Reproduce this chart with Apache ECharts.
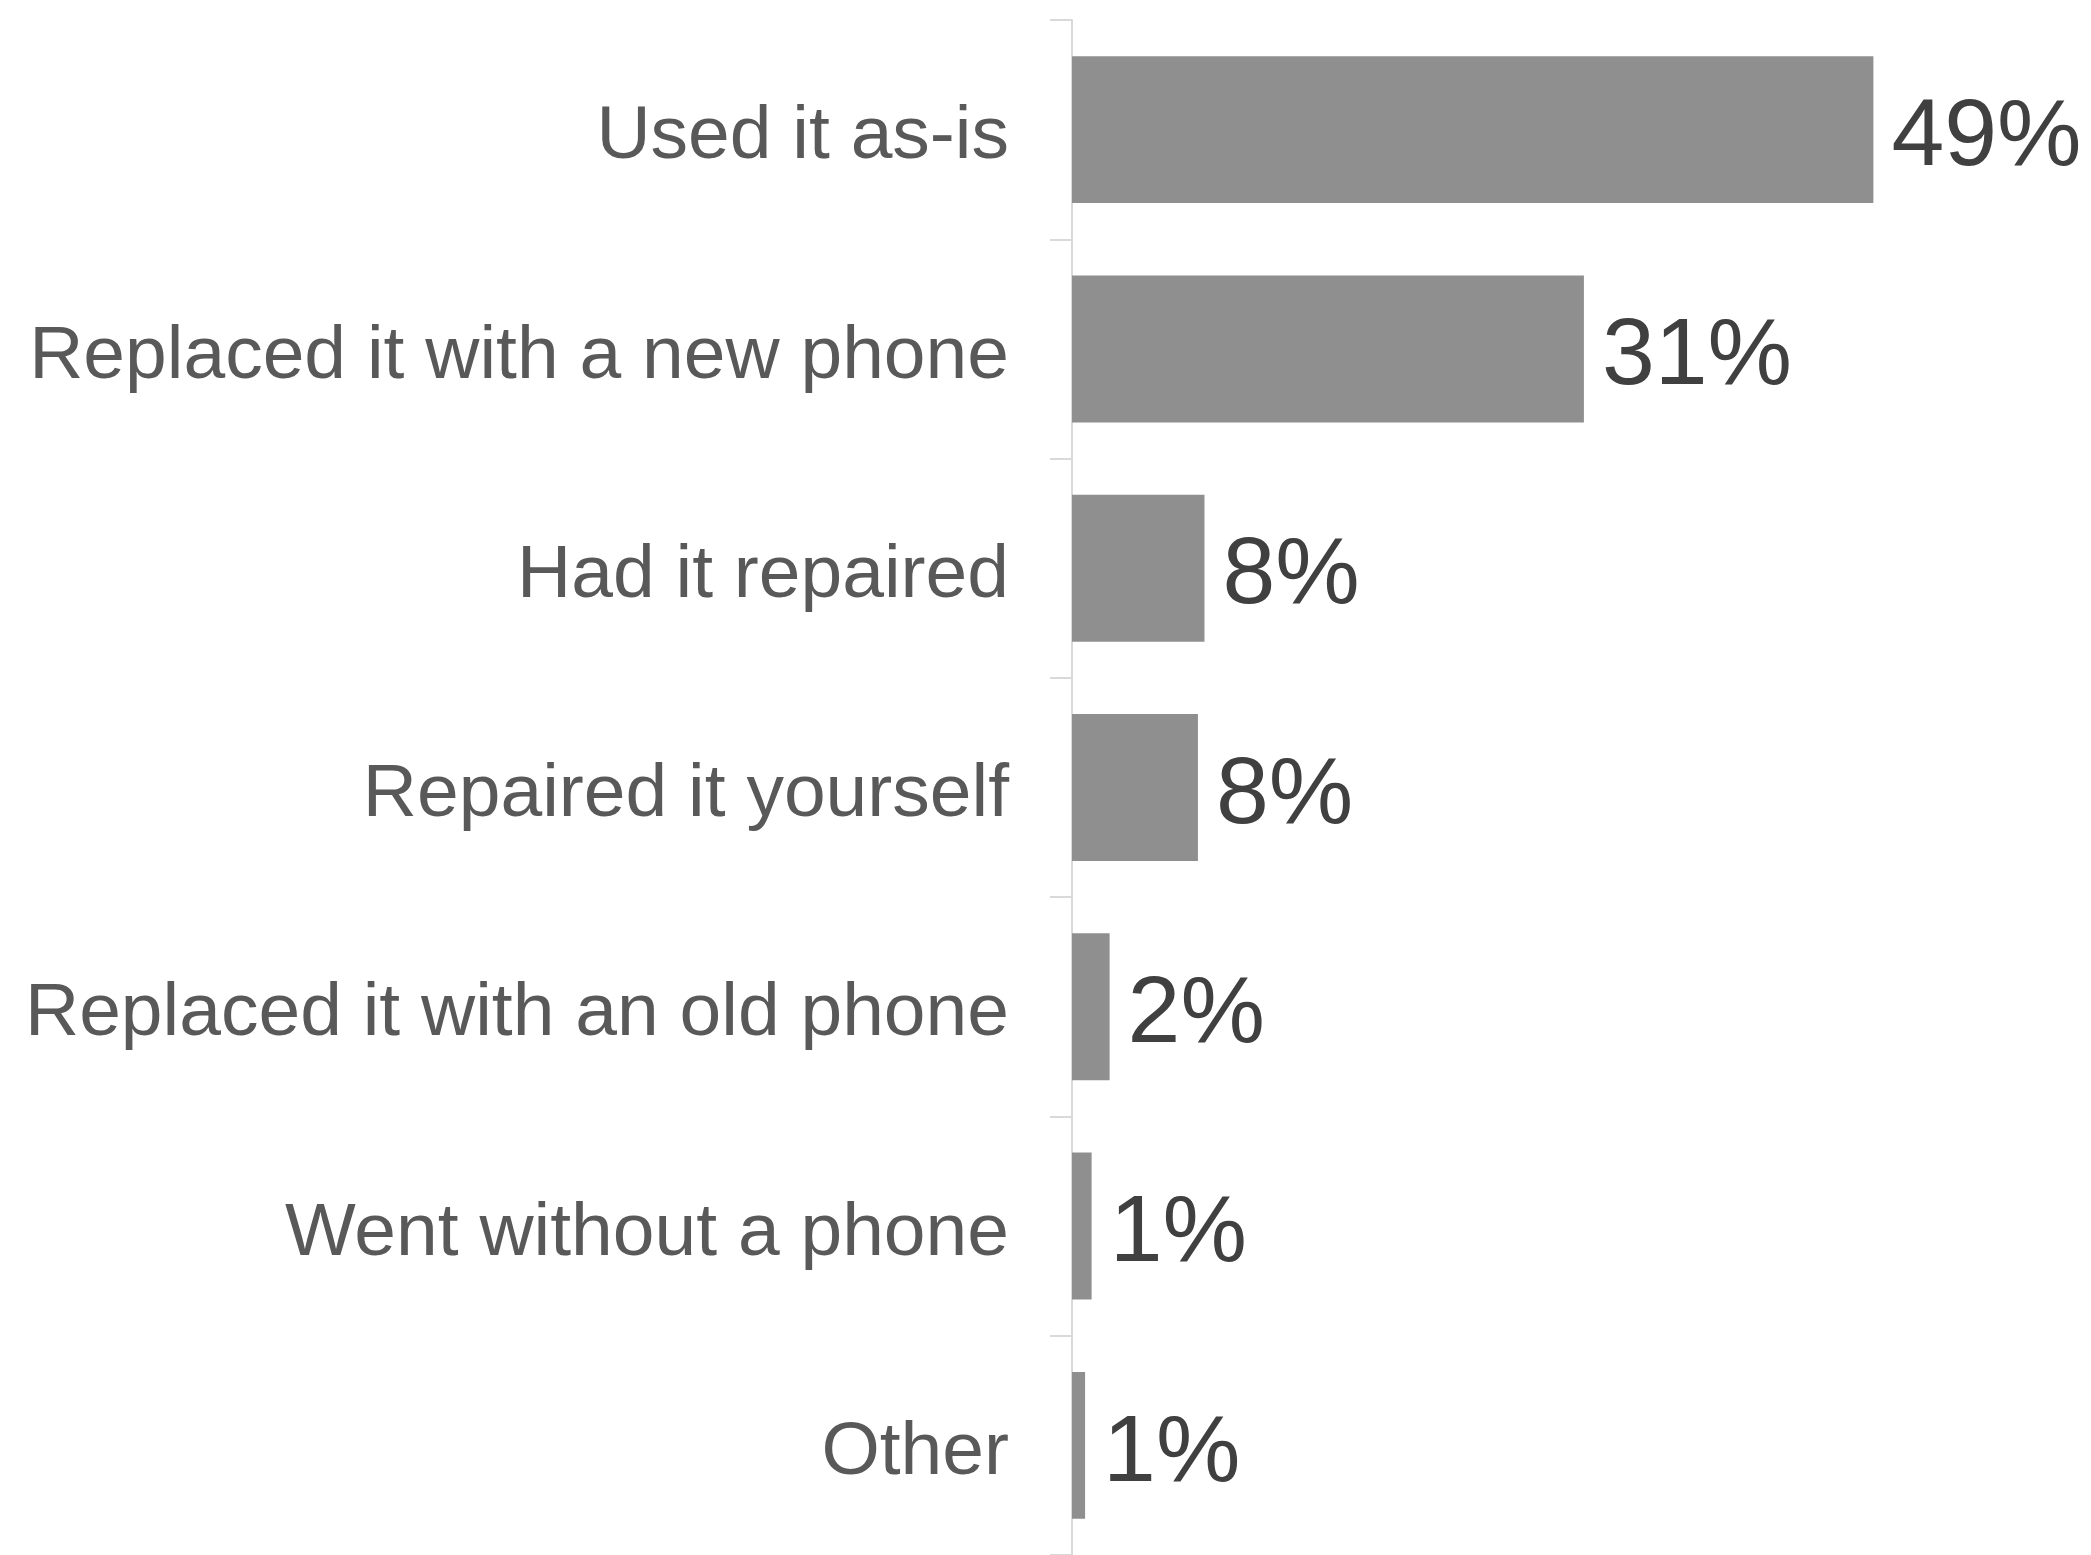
<!DOCTYPE html>
<html>
<head>
<meta charset="utf-8">
<script src="https://cdn.jsdelivr.net/npm/echarts@6/dist/echarts.min.js"></script>
<style>
html,body{margin:0;padding:0;background:#fff;}
#chart{width:2091px;height:1555px;}
</style>
</head>
<body>
<div id="chart"></div>
<script>
const categories = [
  "Used it as-is",
  "Replaced it with a new phone",
  "Had it repaired",
  "Repaired it yourself",
  "Replaced it with an old phone",
  "Went without a phone",
  "Other"
];
const values = [49, 31.3, 8.1, 7.7, 2.3, 1.2, 0.8];
const labelValues = [49, 31, 8, 8, 2, 1, 1];

const chart = echarts.init(document.getElementById('chart'));
chart.setOption({
  backgroundColor: '#ffffff',
  animation: false,
  grid: { left: 1072, right: 5, top: 20, bottom: 0, containLabel: false },
  xAxis: {
    type: 'value', min: 0, max: 62,
    show: false
  },
  yAxis: {
    type: 'category', inverse: true, data: categories,
    axisLine: { show: true, lineStyle: { color: '#d9d9d9', width: 2 } },
    axisTick: { show: true, length: 22, lineStyle: { color: '#d9d9d9', width: 2 } },
    axisLabel: {
      margin: 63,
      formatter: v => '{a|' + v + '}',
      rich: {
        a: {
          fontSize: 75, color: '#595959',
          fontFamily: 'Liberation Sans, Arial, sans-serif',
          padding: [16, 0, 0, 0]
        }
      }
    },
    splitLine: { show: false }
  },
  series: [{
    type: 'bar',
    data: values,
    barCategoryGap: '33%',
    itemStyle: { color: '#8f8f8f' },
    label: {
      show: true, position: 'right', distance: 18,
      fontSize: 95, color: '#404040',
      fontFamily: 'Liberation Sans, Arial, sans-serif',
      offset: [0, 9],
      formatter: p => labelValues[p.dataIndex] + '%'
    }
  }]
});
</script>
</body>
</html>
